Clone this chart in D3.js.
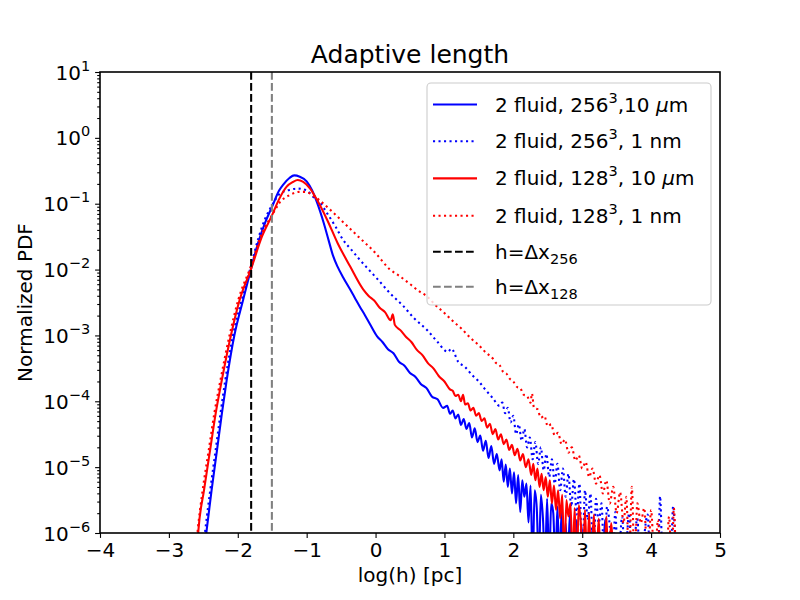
<!DOCTYPE html>
<html>
<head>
<meta charset="utf-8">
<script src="https://cdn.jsdelivr.net/npm/d3@7"></script>
<style>
  body { margin: 0; background: #fff; }
  svg { font-family: "DejaVu Sans", sans-serif; }
</style>
</head>
<body>
<div id="chart"></div>
<script>
// Adaptive length PDFs, values are [log(h) in pc, log10(normalized PDF)]
// -6.5 marks an empty bin (drops below the axis)

const xTicks = [-4, -3, -2, -1, 0, 1, 2, 3, 4, 5];
const yExponents = [1, 0, -1, -2, -3, -4, -5, -6];

// cell sizes of the two grids, log10(4/256) and log10(4/128)
const dxLines = [-1.806, -1.505];

const blue10um = [
  [-2.50,-6.4],[-2.45,-5.94],[-2.38,-5.35],[-2.30,-4.73],[-2.23,-4.18],[-2.16,-3.67],
  [-2.05,-3.00],[-1.92,-2.45],[-1.81,-2.00],[-1.70,-1.58],[-1.60,-1.28],[-1.50,-1.04],
  [-1.40,-0.80],[-1.34,-0.71],[-1.25,-0.61],[-1.18,-0.57],[-1.10,-0.59],[-1.00,-0.66],
  [-0.92,-0.80],[-0.85,-0.98],[-0.75,-1.30],[-0.68,-1.56],[-0.62,-1.78],[-0.55,-1.96],
  [-0.47,-2.12],[-0.37,-2.30],[-0.30,-2.43],[-0.23,-2.56],[-0.15,-2.70],[-0.08,-2.83],
  [0.02,-3.01],[0.10,-3.10],[0.18,-3.21],[0.26,-3.27],[0.34,-3.40],[0.42,-3.46],
  [0.50,-3.57],[0.58,-3.63],[0.66,-3.74],[0.74,-3.80],[0.82,-3.93],[0.90,-3.97],
  [0.98,-4.10],[1.04,-4.07],[1.08,-4.19],[1.12,-4.14],[1.16,-4.26],[1.20,-4.20],
  [1.24,-4.36],[1.28,-4.27],[1.32,-4.42],[1.36,-4.33],[1.40,-4.55],[1.44,-4.41],
  [1.48,-4.62],[1.52,-4.52],[1.56,-4.75],[1.60,-4.60],[1.64,-4.86],[1.68,-4.68],
  [1.72,-4.95],[1.76,-4.80],[1.80,-5.05],[1.83,-4.88],[1.86,-5.22],[1.89,-4.96],
  [1.92,-5.30],[1.95,-5.02],[1.98,-5.40],[2.01,-5.08],[2.04,-5.55],[2.07,-5.12],
  [2.10,-5.68],[2.13,-5.20],[2.16,-5.45],[2.19,-5.25],[2.22,-5.84],[2.25,-5.28],
  [2.28,-6.5],[2.31,-5.35],[2.34,-5.62],[2.37,-6.5],[2.40,-5.42],[2.43,-5.78],
  [2.46,-6.5],[2.49,-5.48],[2.52,-6.5],[2.55,-5.55],[2.58,-5.70],[2.61,-6.5],
  [2.64,-5.60],[2.67,-6.5],[2.70,-5.68],[2.73,-6.5],[2.76,-5.85],[2.79,-6.5],
  [2.82,-5.72],[2.85,-6.5],[2.89,-6.5],[2.92,-5.80],[2.95,-6.5],[2.99,-5.88],
  [3.02,-6.5],[3.12,-6.5],[3.15,-5.90],[3.18,-6.5],[3.30,-6.5],[3.33,-5.80],[3.36,-6.5]
];

const blue1nm = [
  [-2.52,-6.4],[-2.47,-5.94],[-2.40,-5.35],[-2.32,-4.73],[-2.25,-4.18],[-2.18,-3.67],
  [-2.07,-3.00],[-1.94,-2.45],[-1.81,-1.95],[-1.70,-1.52],[-1.60,-1.22],[-1.50,-1.02],
  [-1.39,-0.85],[-1.25,-0.79],[-1.13,-0.77],[-1.00,-0.80],[-0.90,-0.90],[-0.81,-0.98],
  [-0.70,-1.15],[-0.58,-1.35],[-0.47,-1.55],[-0.35,-1.70],[-0.23,-1.85],[-0.10,-2.00],
  [0.05,-2.17],[0.21,-2.36],[0.40,-2.55],[0.55,-2.73],[0.75,-2.92],[0.90,-3.10],
  [1.05,-3.25],[1.10,-3.20],[1.20,-3.40],[1.30,-3.48],[1.40,-3.60],[1.50,-3.70],
  [1.60,-3.83],[1.70,-3.95],[1.80,-4.07],[1.84,-4.02],[1.88,-4.18],[1.92,-4.10],
  [1.96,-4.32],[2.00,-4.22],[2.04,-4.50],[2.08,-4.35],[2.12,-4.60],[2.16,-4.42],
  [2.20,-4.70],[2.24,-4.55],[2.28,-4.88],[2.32,-4.62],[2.36,-4.95],[2.40,-4.70],
  [2.44,-5.05],[2.48,-4.80],[2.52,-5.15],[2.56,-4.88],[2.60,-5.25],[2.64,-4.95],
  [2.68,-5.35],[2.72,-5.02],[2.76,-5.45],[2.80,-5.10],[2.84,-5.60],[2.88,-5.18],
  [2.92,-5.72],[2.96,-5.25],[3.00,-6.5],[3.04,-5.35],[3.08,-5.80],[3.12,-5.40],
  [3.16,-6.5],[3.20,-5.48],[3.24,-5.85],[3.28,-5.55],[3.32,-6.5],[3.36,-5.60],
  [3.40,-5.90],[3.44,-6.5],[3.48,-5.68],[3.52,-6.5],[3.58,-5.75],[3.62,-6.5],
  [3.68,-5.70],[3.72,-6.5],[3.80,-5.78],[3.84,-6.5],[3.95,-5.72],[3.99,-6.5],
  [4.10,-6.5],[4.13,-5.44],[4.17,-6.5],[4.28,-6.5],[4.32,-5.59],[4.36,-6.5]
];

const red10um = [
  [-2.60,-6.4],[-2.57,-5.94],[-2.49,-5.35],[-2.40,-4.73],[-2.32,-4.18],[-2.23,-3.67],
  [-2.10,-3.00],[-1.97,-2.45],[-1.81,-2.00],[-1.65,-1.50],[-1.50,-1.17],[-1.40,-0.93],
  [-1.29,-0.74],[-1.20,-0.67],[-1.13,-0.64],[-1.05,-0.67],[-0.95,-0.77],[-0.85,-0.94],
  [-0.70,-1.25],[-0.55,-1.60],[-0.37,-1.95],[-0.18,-2.30],[-0.10,-2.40],[-0.02,-2.47],
  [0.06,-2.58],[0.14,-2.65],[0.22,-2.77],[0.25,-2.68],[0.28,-2.84],[0.36,-2.92],
  [0.44,-3.02],[0.52,-3.10],[0.60,-3.22],[0.68,-3.30],[0.76,-3.42],[0.84,-3.50],
  [0.92,-3.62],[1.00,-3.70],[1.08,-3.82],[1.12,-3.84],[1.16,-3.92],[1.20,-3.90],
  [1.24,-4.00],[1.27,-3.90],[1.30,-4.05],[1.34,-4.03],[1.38,-4.14],[1.42,-4.10],
  [1.46,-4.22],[1.50,-4.18],[1.54,-4.30],[1.58,-4.26],[1.62,-4.40],[1.66,-4.34],
  [1.70,-4.50],[1.74,-4.42],[1.78,-4.58],[1.82,-4.50],[1.86,-4.65],[1.90,-4.58],
  [1.94,-4.74],[1.98,-4.66],[2.02,-4.82],[2.06,-4.72],[2.10,-4.90],[2.14,-4.80],
  [2.18,-5.00],[2.22,-4.88],[2.26,-5.12],[2.29,-4.95],[2.32,-5.20],[2.35,-5.02],
  [2.38,-5.30],[2.41,-5.10],[2.44,-5.35],[2.47,-5.15],[2.50,-5.45],[2.53,-5.20],
  [2.56,-5.55],[2.59,-5.28],[2.62,-5.65],[2.65,-5.35],[2.68,-5.78],[2.71,-5.42],
  [2.74,-6.5],[2.77,-5.50],[2.80,-5.75],[2.83,-5.55],[2.86,-6.5],[2.89,-5.62],
  [2.92,-6.5],[2.95,-5.58],[2.98,-5.85],[3.01,-6.5],[3.04,-5.65],[3.07,-6.5],
  [3.10,-5.70],[3.13,-6.5],[3.17,-5.72],[3.20,-6.5],[3.24,-5.78],[3.27,-6.5],
  [3.32,-6.5],[3.35,-5.75],[3.38,-6.5],[3.42,-5.85],[3.45,-6.5]
];

const red1nm = [
  [-2.62,-6.4],[-2.58,-5.94],[-2.51,-5.35],[-2.42,-4.73],[-2.34,-4.18],[-2.25,-3.67],
  [-2.12,-3.00],[-1.99,-2.45],[-1.81,-1.95],[-1.65,-1.45],[-1.50,-1.17],[-1.39,-0.98],
  [-1.25,-0.87],[-1.10,-0.82],[-1.02,-0.82],[-0.90,-0.88],[-0.80,-0.96],[-0.66,-1.09],
  [-0.45,-1.30],[-0.25,-1.50],[0.00,-1.75],[0.21,-2.00],[0.35,-2.10],[0.50,-2.22],
  [0.62,-2.32],[0.75,-2.41],[0.87,-2.54],[1.00,-2.66],[1.12,-2.78],[1.25,-2.90],
  [1.38,-3.04],[1.50,-3.15],[1.60,-3.26],[1.71,-3.36],[1.75,-3.42],[1.80,-3.45],
  [1.85,-3.55],[1.90,-3.58],[1.95,-3.66],[2.00,-3.70],[2.05,-3.78],[2.10,-3.80],
  [2.15,-3.90],[2.20,-3.92],[2.25,-4.02],[2.27,-3.88],[2.30,-4.10],[2.35,-4.12],
  [2.40,-4.25],[2.45,-4.22],[2.50,-4.38],[2.55,-4.35],[2.60,-4.52],[2.65,-4.48],
  [2.70,-4.65],[2.75,-4.58],[2.80,-4.78],[2.85,-4.70],[2.90,-4.90],[2.95,-4.82],
  [3.00,-5.02],[3.05,-4.92],[3.10,-5.15],[3.15,-5.02],[3.20,-5.25],[3.25,-5.12],
  [3.30,-5.40],[3.35,-5.20],[3.40,-5.55],[3.45,-5.30],[3.50,-5.70],[3.55,-5.38],
  [3.60,-5.85],[3.64,-5.45],[3.68,-6.5],[3.72,-5.30],[3.76,-6.5],[3.80,-5.55],
  [3.85,-5.85],[3.90,-5.62],[3.95,-6.5],[4.00,-5.65],[4.05,-6.5],[4.10,-5.80],
  [4.14,-6.5],[4.22,-6.5],[4.26,-5.75],[4.30,-6.5],[4.33,-5.62],[4.36,-6.5]
];

// legend labels, split into runs for super/subscripts
const legendLabels = [
  [{t: '2 fluid, 256'}, {t: '3', sup: true}, {t: ',10 '}, {t: 'μ', it: true}, {t: 'm'}],
  [{t: '2 fluid, 256'}, {t: '3', sup: true}, {t: ', 1 nm'}],
  [{t: '2 fluid, 128'}, {t: '3', sup: true}, {t: ', 10 '}, {t: 'μ', it: true}, {t: 'm'}],
  [{t: '2 fluid, 128'}, {t: '3', sup: true}, {t: ', 1 nm'}],
  [{t: 'h=Δx'}, {t: '256', sub: true}],
  [{t: 'h=Δx'}, {t: '128', sub: true}]
];

const seriesStyles = [
  { data: blue10um, color: '#0000ff', dash: null },
  { data: blue1nm, color: '#0000ff', dash: '2.1,3.4' },
  { data: red10um, color: '#ff0000', dash: null },
  { data: red1nm, color: '#ff0000', dash: '2.1,3.4' }
];
const vlineStyles = [
  { color: '#000000', dash: '7.7,3.3' },
  { color: '#808080', dash: '7.7,3.3' }
];

const margin = { top: 72, right: 80, bottom: 67, left: 100 };
const W = 800, H = 600;
const width = W - margin.left - margin.right;
const height = H - margin.top - margin.bottom;

const svg = d3.select('#chart').append('svg')
  .attr('width', W)
  .attr('height', H);

const g = svg.append('g')
  .attr('transform', `translate(${margin.left},${margin.top})`);

const x = d3.scaleLinear().domain([-4, 5]).range([0, width]);
const y = d3.scaleLog().domain([1e-6, 1e1]).range([height, 0]);

g.append('clipPath').attr('id', 'plot-clip')
  .append('rect').attr('width', width).attr('height', height);

const plot = g.append('g').attr('clip-path', 'url(#plot-clip)');

const line = d3.line()
  .x(d => x(d[0]))
  .y(d => y(Math.pow(10, d[1])))
  .curve(d3.curveMonotoneX);

seriesStyles.forEach(s => {
  plot.append('path')
    .datum(s.data)
    .attr('d', line)
    .attr('fill', 'none')
    .attr('stroke', s.color)
    .attr('stroke-width', 2.08)
    .attr('stroke-dasharray', s.dash)
    .attr('stroke-linejoin', 'round');
});

dxLines.forEach((v, i) => {
  plot.append('line')
    .attr('x1', x(v)).attr('x2', x(v))
    .attr('y1', 0).attr('y2', height)
    .attr('stroke', vlineStyles[i].color)
    .attr('stroke-width', 2.08)
    .attr('stroke-dasharray', vlineStyles[i].dash);
});

// axes
const xAxis = d3.axisBottom(x)
  .tickValues(xTicks)
  .tickSize(4.9)
  .tickPadding(5)
  .tickFormat(d => d < 0 ? '\u2212' + Math.abs(d) : d);

const gx = g.append('g')
  .attr('transform', `translate(0,${height})`)
  .call(xAxis);

const majorY = yExponents.map(e => Math.pow(10, e));
const minorY = [];
yExponents.slice(1).forEach(e => {
  for (let k = 2; k <= 9; k++) minorY.push(k * Math.pow(10, e));
});

const gyMinor = g.append('g')
  .call(d3.axisLeft(y).tickValues(minorY).tickSize(2.8).tickFormat(''));

const gy = g.append('g')
  .call(d3.axisLeft(y).tickValues(majorY).tickSize(4.9).tickPadding(5).tickFormat(''));

gy.selectAll('.tick text')
  .attr('dy', null)
  .attr('y', 7)
  .each(function(d, i) {
    const t = d3.select(this);
    const e = yExponents[i];
    t.append('tspan').text('10');
    t.append('tspan')
      .attr('dy', -9)
      .style('font-size', '14.5px')
      .text(e < 0 ? '\u2212' + Math.abs(e) : e);
  });

[gx, gy, gyMinor].forEach(a => {
  a.select('.domain').remove();
  a.selectAll('.tick line').attr('stroke', '#000').attr('stroke-width', 1.1);
  a.selectAll('text').attr('fill', '#000').style('font-size', '20px')
    .style('font-family', '"DejaVu Sans", sans-serif');
});
gy.selectAll('.tick text tspan:last-child').style('font-size', '14.5px');

// frame
g.append('rect')
  .attr('width', width).attr('height', height)
  .attr('fill', 'none')
  .attr('stroke', '#000')
  .attr('stroke-width', 1.6);

// labels
g.append('text')
  .attr('x', width / 2).attr('y', -9)
  .attr('text-anchor', 'middle')
  .style('font-size', '25px')
  .text('Adaptive length');

g.append('text')
  .attr('x', width / 2).attr('y', height + 49)
  .attr('text-anchor', 'middle')
  .style('font-size', '20px')
  .text('log(h) [pc]');

g.append('text')
  .attr('transform', `translate(${-68},${height / 2}) rotate(-90)`)
  .attr('text-anchor', 'middle')
  .style('font-size', '20px')
  .text('Normalized PDF');

// legend
const legendRows = [104.5, 141.2, 178.4, 215.8, 251.8, 286.8];
const legend = svg.append('g');

legend.append('rect')
  .attr('x', 427).attr('y', 83)
  .attr('width', 284).attr('height', 222)
  .attr('rx', 4)
  .attr('fill', '#fff')
  .attr('fill-opacity', 0.8)
  .attr('stroke', '#cccccc')
  .attr('stroke-width', 1.1);

const handles = seriesStyles.map(s => ({ color: s.color, dash: s.dash }))
  .concat(vlineStyles);

legendLabels.forEach((runs, i) => {
  const cy = legendRows[i];
  legend.append('line')
    .attr('x1', 433).attr('x2', 477)
    .attr('y1', cy).attr('y2', cy)
    .attr('stroke', handles[i].color)
    .attr('stroke-width', 2.08)
    .attr('stroke-dasharray', handles[i].dash);

  const t = legend.append('text')
    .attr('x', 495).attr('y', cy + 7)
    .style('font-size', '20px');
  let shift = 0;
  runs.forEach(r => {
    const sp = t.append('tspan').text(r.t);
    if (r.sup) {
      sp.attr('dy', -9 - shift).style('font-size', '14.5px');
      shift = -9;
    } else if (r.sub) {
      sp.attr('dy', 5 - shift).style('font-size', '14.5px');
      shift = 5;
    } else if (shift !== 0) {
      sp.attr('dy', -shift);
      shift = 0;
    }
    if (r.it) sp.style('font-style', 'italic');
  });
});
</script>
</body>
</html>
